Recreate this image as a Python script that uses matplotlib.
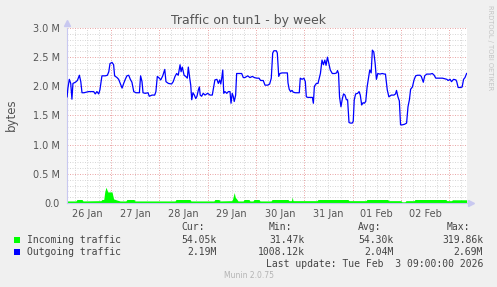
import numpy as np
import matplotlib
matplotlib.use('Agg')
import matplotlib.pyplot as plt
from matplotlib.patches import Rectangle

# time axis: hours since 26 Jan 00:00
day_labels = ['26 Jan', '27 Jan', '28 Jan', '29 Jan', '30 Jan', '31 Jan', '01 Feb', '02 Feb']

# outgoing traffic (line), bytes in M
out_hours = [2.2, 2.6, 3.3, 4.0, 4.6, 5.1, 6.3, 7.3, 8.3, 9.0, 9.6, 10.6, 12.9, 15.4, 16.2, 17.0,
             17.9, 18.5, 19.5, 21.2, 22.2, 22.9, 23.5, 24.5, 25.3, 25.8, 27.0, 27.8, 28.6, 29.5,
             30.3, 31.1, 31.9, 32.8, 33.6, 34.4, 35.3, 36.4, 38.1, 38.7, 39.4, 39.9, 41.0, 42.4,
             43.0, 44.4, 45.7, 46.3, 47.0, 48.0, 48.7, 49.7, 50.7, 51.3, 52.5, 54.1, 54.9, 55.8,
             56.6, 57.4, 58.3, 58.8, 59.4, 60.3, 61.1, 61.9, 62.4, 63.1, 63.6, 64.1, 64.7, 65.4,
             66.1, 66.7, 67.4, 67.9, 68.3, 69.0, 69.8, 70.7, 72.0, 73.2, 74.3, 75.0, 75.6, 76.6,
             77.3, 78.0, 78.5, 79.0, 79.5, 80.0, 80.6, 81.5, 82.3, 83.1, 83.6, 84.2, 84.7, 85.2,
             85.9, 86.4, 87.6, 88.9, 89.7, 90.5, 91.9, 93.0, 94.2, 95.2, 96.4, 97.5, 98.3, 99.6,
             100.5, 101.8, 102.8, 103.6, 104.3, 104.9, 106.1, 106.6, 107.3, 107.9, 108.9, 110.3,
             111.6, 111.9, 112.5, 113.2, 113.9, 114.5, 115.5, 116.9, 117.5, 118.0, 118.9, 119.8,
             120.5, 121.0, 121.8, 123.2, 124.0, 124.5, 125.0, 126.0, 126.8, 127.3, 128.0, 128.8,
             129.5, 130.2, 130.8, 131.5, 132.2, 132.9, 133.9, 135.2, 136.0, 136.5, 137.0, 137.5,
             138.2, 138.9, 139.5, 140.2, 140.9, 141.5, 142.2, 142.9, 143.8, 144.3, 144.8, 145.5,
             146.5, 147.2, 147.8, 148.5, 149.2, 149.8, 150.5, 151.2, 151.8, 152.5, 153.2, 153.8,
             154.5, 155.2, 155.8, 156.5, 157.5, 158.7, 159.8, 160.3, 161.2, 162.0, 163.2, 164.5,
             165.3, 165.8, 166.5, 167.2, 167.8, 168.7, 169.8, 170.8, 171.5, 172.2, 172.8, 173.7,
             174.5, 175.3, 176.2, 177.5, 178.1, 179.1, 179.8, 180.8, 182.5, 183.6, 184.5, 185.3,
             187.0, 188.6, 189.8, 190.8, 191.4, 192.4, 193.1, 194.1, 195.3, 195.7, 196.4, 197.7,
             198.4, 199.1, 199.8, 200.6]
out_vals = [1.82, 1.97, 2.12, 2.05, 1.78, 2.05, 2.07, 2.10, 2.19, 2.08, 1.89, 1.89, 1.91, 1.91, 1.87, 1.91,
            1.87, 1.94, 2.18, 2.18, 2.19, 2.25, 2.39, 2.41, 2.37, 2.18, 2.15, 2.12, 2.05, 1.97,
            2.05, 2.12, 2.18, 2.19, 2.12, 2.07, 1.91, 1.89, 1.89, 2.18, 2.08, 1.89, 1.88, 1.89,
            1.83, 1.85, 1.85, 1.91, 2.17, 2.14, 2.11, 2.18, 2.29, 2.08, 2.05, 2.04, 2.08, 2.17,
            2.22, 2.19, 2.37, 2.25, 2.33, 2.19, 2.17, 2.14, 2.33, 2.14, 2.02, 1.77, 1.89, 1.85,
            1.79, 1.83, 1.94, 1.99, 1.85, 1.83, 1.88, 1.85, 1.88, 1.85, 1.85, 1.99, 2.11, 2.12,
            2.05, 2.11, 2.04, 2.14, 2.28, 1.88, 1.91, 1.88, 1.91, 1.91, 1.71, 1.88, 1.83, 1.74,
            1.85, 2.22, 2.22, 2.22, 2.15, 2.15, 2.18, 2.15, 2.17, 2.15, 2.14, 2.14, 2.10, 2.10,
            2.02, 2.02, 2.04, 2.14, 2.57, 2.61, 2.61, 2.57, 2.17, 2.22, 2.23, 2.23,
            2.23, 2.06, 1.95, 1.91, 1.93, 1.90, 1.89, 1.89, 1.89, 2.14, 2.12, 2.14,
            2.08, 1.82, 1.81, 1.81, 1.81, 1.71, 2.00, 2.05, 2.05, 2.12, 2.22, 2.45,
            2.37, 2.45, 2.36, 2.50, 2.39, 2.28, 2.22, 2.22, 2.23, 2.27, 2.22, 1.82,
            1.65, 1.79, 1.87, 1.85, 1.77, 1.77, 1.38, 1.37, 1.37, 1.40, 1.77, 1.87,
            1.88, 1.91, 1.85, 1.68, 1.72, 1.71, 1.74, 1.99, 2.12, 2.28, 2.23, 2.62,
            2.59, 2.39, 2.12, 2.22, 2.21, 2.22, 2.21, 2.21, 1.94, 1.82, 1.85, 1.85,
            1.87, 1.93, 1.82, 1.75, 1.34, 1.34, 1.35, 1.37, 1.65, 1.77, 1.95, 1.99,
            2.11, 2.18, 2.19, 2.19, 2.17, 2.07, 2.18, 2.21, 2.21, 2.22, 2.19, 2.14,
            2.14, 2.14, 2.13, 2.12, 2.10, 2.12, 2.08, 2.12, 2.11, 2.08, 1.98, 1.98,
            1.99, 2.12, 2.15, 2.22]

# incoming traffic (area), bytes in M
in_hours = [2.2, 6.6, 7.1, 9.6, 10.1, 19.0, 19.5, 20.4, 20.9, 21.5, 22.4, 24.5, 25.3, 27.0, 28.5,
            31.4, 31.9, 35.4, 35.9, 55.8, 56.3, 63.2, 63.7, 75.1, 75.6, 77.6, 78.1, 84.0, 84.4,
            85.2, 85.7, 86.6, 87.1, 89.6, 90.1, 92.5, 93.0, 94.5, 95.0, 97.5, 98.0, 103.5, 104.0,
            111.9, 112.4, 113.6, 114.0, 114.4, 126.3, 126.8, 141.7, 142.2, 150.6, 151.1, 161.4,
            161.9, 168.0, 168.5, 170.0, 170.5, 174.5, 175.0, 190.3, 190.8, 193.1, 193.6, 200.6]
in_vals = [0.035, 0.035, 0.06, 0.06, 0.035, 0.04, 0.06, 0.06, 0.19, 0.27, 0.19, 0.19, 0.07, 0.05, 0.035,
           0.035, 0.06, 0.06, 0.035, 0.035, 0.06, 0.06, 0.035, 0.035, 0.06, 0.06, 0.035, 0.04, 0.07,
           0.18, 0.10, 0.06, 0.035, 0.035, 0.06, 0.06, 0.035, 0.035, 0.06, 0.06, 0.035, 0.035, 0.06,
           0.06, 0.04, 0.04, 0.10, 0.04, 0.04, 0.06, 0.06, 0.04, 0.04, 0.06, 0.06,
           0.04, 0.04, 0.02, 0.02, 0.04, 0.04, 0.06, 0.06, 0.04, 0.04, 0.055, 0.055]

y_labels = ['0.0', '0.5 M', '1.0 M', '1.5 M', '2.0 M', '2.5 M', '3.0 M']

legend_names = ['Incoming traffic', 'Outgoing traffic']
legend_colors = ['#00FF00', '#0000FF']
legend_heads = ['Cur:', 'Min:', 'Avg:', 'Max:']
legend_rows = [['54.05k', '31.47k', '54.30k', '319.86k'],
               ['2.19M', '1008.12k', '2.04M', '2.69M']]
last_update = 'Last update: Tue Feb  3 09:00:00 2026'

W, H = 497, 287


def fx(x):
    return x / W


def fy(y):
    return 1 - y / H


fig = plt.figure(figsize=(W / 100, H / 100), dpi=100, facecolor='#F0F0F0')
ax = fig.add_axes([fx(67), fy(203), 400 / W, 175 / H])
ax.set_facecolor('white')

x0, x1 = 2.15, 200.8
ax.set_xlim(x0, x1)
ax.set_ylim(0, 3.0e6)

# grid (dotted, major red at day / 0.5M)
for h in np.arange(0, 204, 6):
    if x0 < h < x1:
        c = '#eaa8a8' if h % 24 == 0 else '#d8d8d8'
        ax.axvline(h, color=c, lw=0.72, ls=(0, (1, 1.5)), zorder=0)
for i in range(1, 31):
    c = '#eaa8a8' if i % 5 == 0 else '#d8d8d8'
    ax.axhline(i * 0.1e6, color=c, lw=0.72, ls=(0, (1, 1.5)), zorder=0)

ax.fill_between(in_hours, np.array(in_vals) * 1e6, color='#00FF00', lw=0, zorder=2)
ax.plot(out_hours, np.array(out_vals) * 1e6, color='#0000FF', lw=0.9, zorder=3)

ax.set_xticks([12 + 24 * i for i in range(len(day_labels))])
ax.set_xticklabels(day_labels)
ax.set_yticks([i * 0.5e6 for i in range(len(y_labels))])
ax.set_yticklabels(y_labels)
ax.tick_params(axis='both', length=0, labelsize=7, colors='#555555')
ax.tick_params(axis='x', pad=4)
ax.tick_params(axis='y', pad=5)

for s in ['top', 'right']:
    ax.spines[s].set_visible(False)
for s in ['left', 'bottom']:
    ax.spines[s].set_color('#c8c8f0')
    ax.spines[s].set_linewidth(0.8)
ax.plot([0], [1.03], marker='^', ms=4, color='#c8c8f0', transform=ax.transAxes, clip_on=False)
ax.plot([1.01], [0], marker='>', ms=4, color='#c8c8f0', transform=ax.transAxes, clip_on=False)

fig.text(0.5, fy(24), 'Traffic on tun1 - by week', ha='center', va='baseline',
         fontsize=9, color='#555555')
fig.text(fx(11), fy(115), 'bytes', rotation=90, ha='center', va='center',
         fontsize=8.5, color='#555555')
fig.text(fx(490), fy(5), 'RRDTOOL / TOBI OETIKER', rotation=270, ha='center', va='top',
         fontsize=4.8, color='#c4c4c4')

# legend
mono = 'DejaVu Sans Mono'
head_x = [181, 269, 358, 447]
val_x = [217, 305, 394, 483]
for hx, t in zip(head_x, legend_heads):
    fig.text(fx(hx), fy(227.5), t, family=mono, fontsize=7, color='#444444', va='center')
row_y = [240, 252]
for ry, name, col, vals in zip(row_y, legend_names, legend_colors, legend_rows):
    fig.add_artist(Rectangle((fx(14), fy(ry + 3)), 6 / W, 6 / H, transform=fig.transFigure,
                             facecolor=col, edgecolor='none'))
    fig.text(fx(27), fy(ry), name, family=mono, fontsize=7, color='#444444', va='center')
    for vx, v in zip(val_x, vals):
        fig.text(fx(vx), fy(ry), v, family=mono, fontsize=7, color='#444444',
                 va='center', ha='right')
fig.text(fx(483), fy(264), last_update, family=mono, fontsize=7, color='#444444',
         va='center', ha='right')
fig.text(0.5, fy(276), 'Munin 2.0.75', ha='center', va='center', fontsize=5.5, color='#b4b4b4')

fig.savefig('out.png', dpi=100, facecolor=fig.get_facecolor())
